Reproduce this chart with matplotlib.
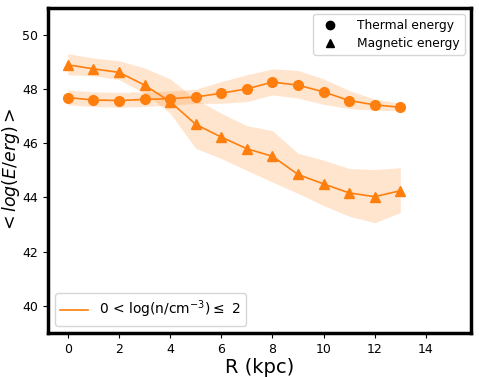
import matplotlib
matplotlib.use("Agg")
import matplotlib.pyplot as plt
from matplotlib.lines import Line2D
import numpy as np

R = [0, 1, 2, 3, 4, 5, 6, 7, 8, 9, 10, 11, 12, 13]
thermal = [47.69, 47.60, 47.58, 47.62, 47.65, 47.71, 47.85, 48.01, 48.26, 48.15, 47.90, 47.58, 47.42, 47.33]
thermal_hi = [47.97, 47.90, 47.88, 47.90, 47.93, 48.00, 48.28, 48.53, 48.75, 48.69, 48.38, 47.95, 47.63, 47.48]
thermal_lo = [47.42, 47.36, 47.33, 47.36, 47.41, 47.47, 47.48, 47.54, 47.79, 47.67, 47.44, 47.28, 47.23, 47.20]
magnetic = [48.90, 48.75, 48.62, 48.15, 47.54, 46.70, 46.23, 45.80, 45.52, 44.85, 44.50, 44.17, 44.03, 44.25]
magnetic_hi = [49.31, 49.15, 49.05, 48.78, 48.38, 47.63, 47.11, 46.65, 46.47, 45.63, 45.38, 45.07, 45.03, 45.10]
magnetic_lo = [48.53, 48.49, 48.35, 47.85, 47.11, 45.81, 45.44, 45.00, 44.57, 44.15, 43.70, 43.31, 43.07, 43.44]

color = "tab:orange"
fig = plt.figure(figsize=(4.79, 3.77), dpi=100)
ax = fig.add_axes([0.100, 0.117, 0.883, 0.862])

ax.fill_between(R, thermal_lo, thermal_hi, color=color, alpha=0.2, lw=0)
ax.fill_between(R, magnetic_lo, magnetic_hi, color=color, alpha=0.2, lw=0)
ax.plot(R, thermal, color=color, marker="o", ms=7, lw=1.2)
ax.plot(R, magnetic, color=color, marker="^", ms=7, lw=1.2)

ax.set_xlim(-0.78, 15.76)
ax.set_ylim(39, 51)
ax.set_xticks([0, 2, 4, 6, 8, 10, 12, 14])
ax.set_yticks([40, 42, 44, 46, 48, 50])
ax.tick_params(labelsize=9)
for s in ax.spines.values():
    s.set_linewidth(2.5)
ax.set_xlabel("R (kpc)", fontsize=14, labelpad=2)
ax.set_ylabel(r"$<log(E/erg)>$", fontsize=12.5)
ax.yaxis.set_label_coords(-0.062, 0.5)

h1 = Line2D([], [], color="k", marker="o", ls="none", ms=6)
h2 = Line2D([], [], color="k", marker="^", ls="none", ms=6)
leg1 = ax.legend([h1, h2], ["Thermal energy", "Magnetic energy"], loc="upper right",
                 fontsize=8.8, handletextpad=1.2, labelspacing=0.4)
ax.add_artist(leg1)
hl = Line2D([], [], color=color, lw=1.2)
ax.legend([hl], [r"0 < log(n/cm$^{-3}$)$\leq$ 2"], loc="lower left", fontsize=10)

fig.savefig("out.png", dpi=100)
